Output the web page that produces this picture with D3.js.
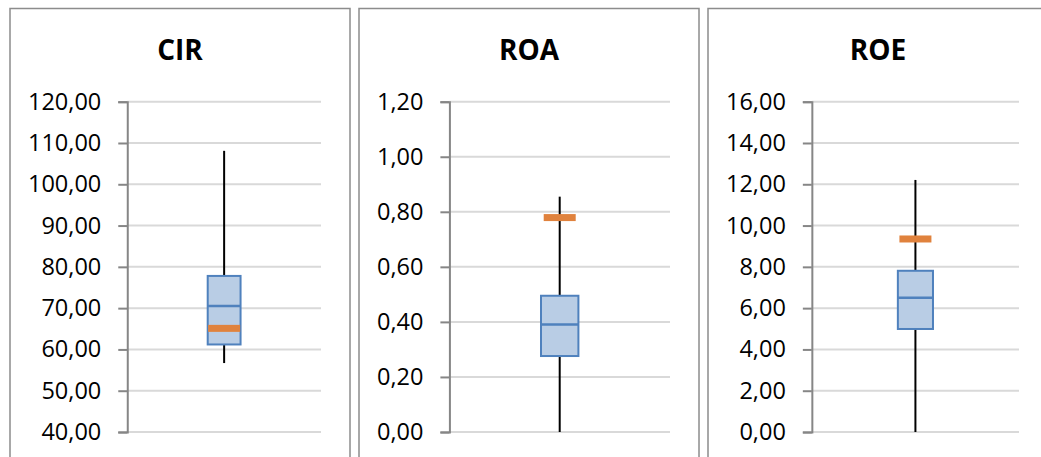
<!DOCTYPE html>
<html>
<head>
<meta charset="utf-8">
<script src="https://cdn.jsdelivr.net/npm/d3@7"></script>
<style>
  body { margin: 0; background: #fff; }
  svg { display: block; font-family: "Open Sans", "Noto Sans", sans-serif; }
</style>
</head>
<body>
<div class="chart"></div>
<script>
// Data
const metrics = ["CIR", "ROA", "ROE"];
const axisMin = [40, 0, 0];
const axisMax = [120, 1.2, 16];
const axisStep = [10, 0.2, 2];
const whiskerLow = [56.7, 0, 0];
const q1 = [61.2, 0.276, 4.99];
const median = [70.5, 0.391, 6.5];
const q3 = [77.8, 0.495, 7.81];
const whiskerHigh = [108.1, 0.855, 12.21];
const marker = [65.1, 0.779, 9.35];

const W = 1041, H = 457;
const panelW = 340, panelGap = 9, panelTop = 8.5, panelLeft = 10;
const plotTop = 101.7, plotBottom = 432, plotRightOffset = 311;
const labelSize = 23.5;

const locale = d3.formatLocale({ decimal: ",", thousands: ".", grouping: [3], currency: ["", ""] });
const fmt = locale.format(".2f");

const svg = d3.select('.chart')
    .append('svg')
    .attr('width', W)
    .attr('height', H);

metrics.forEach((name, i) => {
    const x0 = panelLeft + i * (panelW + panelGap);
    const panel = svg.append('g').attr('transform', `translate(${x0}, 0)`);

    // frame
    panel.append('rect')
        .attr('x', 0)
        .attr('y', panelTop)
        .attr('width', panelW)
        .attr('height', H + 20)
        .attr('fill', '#fff')
        .attr('stroke', '#8c8c8c')
        .attr('stroke-width', 1.5);

    // title
    panel.append('text')
        .attr('x', panelW / 2)
        .attr('y', 60)
        .attr('text-anchor', 'middle')
        .attr('font-size', 28)
        .attr('font-weight', 'bold')
        .attr('fill', '#000')
        .text(name);

    const ticks = d3.range(axisMin[i], axisMax[i] + axisStep[i] / 2, axisStep[i]);

    // measure widest label so the axis sits where Excel would put it
    const probe = panel.append('text').attr('font-size', labelSize);
    let maxW = 0;
    ticks.forEach(t => { probe.text(fmt(t)); maxW = Math.max(maxW, probe.node().getComputedTextLength()); });
    probe.remove();
    const axisX = 18 + maxW + 26;

    const y = d3.scaleLinear()
        .domain([axisMin[i], axisMax[i]])
        .range([plotBottom, plotTop]);

    const x = d3.scaleBand()
        .domain([name])
        .range([axisX, plotRightOffset])
        .padding(0.71);

    // gridlines
    panel.append('g')
        .selectAll('line')
        .data(ticks)
        .join('line')
        .attr('x1', axisX)
        .attr('x2', plotRightOffset)
        .attr('y1', d => y(d))
        .attr('y2', d => y(d))
        .attr('stroke', '#d9d9d9')
        .attr('stroke-width', 2);

    // y axis
    const axis = panel.append('g')
        .attr('transform', `translate(${axisX}, 0)`)
        .call(d3.axisLeft(y).tickValues(ticks).tickFormat(fmt).tickSize(9).tickPadding(17));
    axis.select('.domain').attr('stroke', '#868686').attr('stroke-width', 2);
    axis.selectAll('.tick line').attr('stroke', '#868686').attr('stroke-width', 2);
    axis.selectAll('.tick text')
        .attr('font-size', labelSize)
        .attr('font-family', '"Open Sans", "Noto Sans", sans-serif')
        .attr('fill', '#000');

    const cx = x(name) + x.bandwidth() / 2;
    const bw = x.bandwidth();

    // whiskers
    panel.append('line')
        .attr('x1', cx).attr('x2', cx)
        .attr('y1', y(q3[i])).attr('y2', y(whiskerHigh[i]))
        .attr('stroke', '#000').attr('stroke-width', 2);
    panel.append('line')
        .attr('x1', cx).attr('x2', cx)
        .attr('y1', y(whiskerLow[i])).attr('y2', y(q1[i]))
        .attr('stroke', '#000').attr('stroke-width', 2);

    // box
    panel.append('rect')
        .attr('x', cx - bw / 2)
        .attr('y', y(q3[i]))
        .attr('width', bw)
        .attr('height', y(q1[i]) - y(q3[i]))
        .attr('fill', '#b9cde5')
        .attr('stroke', '#4f81bd')
        .attr('stroke-width', 2);

    panel.append('line')
        .attr('x1', cx - bw / 2).attr('x2', cx + bw / 2)
        .attr('y1', y(median[i])).attr('y2', y(median[i]))
        .attr('stroke', '#4f81bd').attr('stroke-width', 2.5);

    // orange marker
    const mw = Math.min(bw, 32);
    panel.append('rect')
        .attr('x', cx - mw / 2)
        .attr('y', y(marker[i]) - 3.5)
        .attr('width', mw)
        .attr('height', 7)
        .attr('fill', '#e0823d');
});
</script>
</body>
</html>
